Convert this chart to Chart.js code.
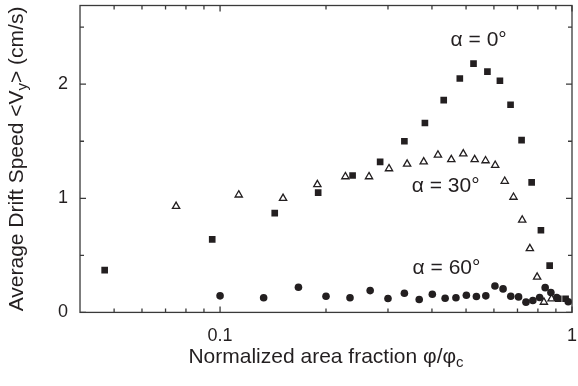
<!DOCTYPE html>
<html>
<head>
<meta charset="utf-8">
<script src="https://cdn.jsdelivr.net/npm/chart.js@4/dist/chart.umd.min.js"></script>
<style>
    html, body { margin: 0; padding: 0; background: #ffffff; }
    #wrap { width: 578px; height: 386px; }
</style>
</head>
<body>
<div id="wrap"><canvas id="drift-chart"></canvas></div>
<script>
// alpha = 0 deg (filled squares)
const ALPHA0_X = [0.047, 0.095, 0.143, 0.190, 0.238, 0.285, 0.334, 0.382, 0.432, 0.480, 0.525, 0.575, 0.624, 0.669, 0.719, 0.768, 0.816, 0.864, 0.914, 0.959];
const ALPHA0_Y = [0.37, 0.64, 0.87, 1.05, 1.20, 1.32, 1.50, 1.66, 1.86, 2.05, 2.18, 2.11, 2.03, 1.82, 1.51, 1.14, 0.72, 0.41, 0.12, 0.12];

// alpha = 30 deg (open triangles)
const ALPHA30_X = [0.075, 0.113, 0.151, 0.189, 0.227, 0.265, 0.302, 0.340, 0.379, 0.416, 0.454, 0.491, 0.529, 0.568, 0.605, 0.644, 0.682, 0.722, 0.759, 0.796, 0.832, 0.875];
const ALPHA30_Y = [0.93, 1.03, 1.00, 1.12, 1.19, 1.19, 1.26, 1.30, 1.32, 1.38, 1.34, 1.39, 1.34, 1.33, 1.29, 1.15, 1.01, 0.81, 0.56, 0.31, 0.09, 0.12];

// alpha = 60 deg (filled circles)
const ALPHA60_X = [0.100, 0.133, 0.167, 0.200, 0.234, 0.267, 0.300, 0.334, 0.368, 0.401, 0.436, 0.468, 0.501, 0.535, 0.569, 0.604, 0.637, 0.670, 0.705, 0.740, 0.774, 0.809, 0.839, 0.871, 0.905, 0.976];
const ALPHA60_Y = [0.145, 0.128, 0.22, 0.142, 0.128, 0.191, 0.122, 0.168, 0.113, 0.159, 0.124, 0.128, 0.15, 0.139, 0.145, 0.232, 0.206, 0.142, 0.136, 0.09, 0.104, 0.13, 0.217, 0.174, 0.13, 0.093];

// axes
const X_LABEL_TICKS = [0.1, 1];
const X_MINOR_TICKS = [0.05, 0.06, 0.07, 0.08, 0.09, 0.2, 0.3, 0.4, 0.5, 0.6, 0.7, 0.8, 0.9];
const Y_LABEL_TICKS = [0, 1, 2];
const Y_MINOR_TICKS = [0.5, 1.5, 2.5];

// curve labels
const LABEL_TEXT = ['α = 0°', 'α = 30°', 'α = 60°'];
const LABEL_X = [0.543, 0.4375, 0.44];
const LABEL_Y = [2.39, 1.11, 0.39];

const INK = '#231f20';
const FONT = "'Liberation Sans', Arial, Helvetica, sans-serif";

function toPoints(xs, ys) {
    return xs.map((x, i) => ({ x: x, y: ys[i] }));
}

// draws a line of text where some pieces are subscripts, centred on (cx, cy)
function drawSubText(ctx, parts, cx, cy, size) {
    const subSize = Math.round(size * 0.7);
    let total = 0;
    parts.forEach(p => {
        ctx.font = (p[1] ? subSize : size) + 'px ' + FONT;
        total += ctx.measureText(p[0]).width;
    });
    let x = cx - total / 2;
    ctx.textAlign = 'left';
    ctx.textBaseline = 'middle';
    parts.forEach(p => {
        ctx.font = (p[1] ? subSize : size) + 'px ' + FONT;
        ctx.fillText(p[0], x, p[1] ? cy + size * 0.3 : cy);
        x += ctx.measureText(p[0]).width;
    });
}

const framePlugin = {
    id: 'frame',
    afterDatasetsDraw(chart) {
        const ctx = chart.ctx;
        const area = chart.chartArea;
        const xs = chart.scales.x;
        const ys = chart.scales.y;
        ctx.save();
        ctx.strokeStyle = '#3a3a3a';
        ctx.lineWidth = 1.3;
        ctx.strokeRect(area.left, area.top, area.right - area.left, area.bottom - area.top);

        ctx.beginPath();
        const xTick = (v, len) => {
            const px = xs.getPixelForValue(v);
            ctx.moveTo(px, area.bottom); ctx.lineTo(px, area.bottom - len);
            ctx.moveTo(px, area.top); ctx.lineTo(px, area.top + len);
        };
        const yTick = (v, len) => {
            const py = ys.getPixelForValue(v);
            ctx.moveTo(area.left, py); ctx.lineTo(area.left + len, py);
            ctx.moveTo(area.right, py); ctx.lineTo(area.right - len, py);
        };
        X_LABEL_TICKS.forEach(v => xTick(v, 6));
        X_MINOR_TICKS.forEach(v => xTick(v, 4));
        Y_LABEL_TICKS.forEach(v => yTick(v, 6));
        Y_MINOR_TICKS.forEach(v => yTick(v, 4));
        ctx.stroke();

        ctx.fillStyle = INK;
        ctx.font = '21px ' + FONT;
        ctx.textAlign = 'center';
        ctx.textBaseline = 'middle';
        LABEL_TEXT.forEach((t, i) => {
            ctx.fillText(t, xs.getPixelForValue(LABEL_X[i]), ys.getPixelForValue(LABEL_Y[i]));
        });

        // axis titles
        drawSubText(ctx, [['Normalized area fraction φ/φ', false], ['c', true]],
            (area.left + area.right) / 2, 357, 21);
        ctx.translate(17, (area.top + area.bottom) / 2);
        ctx.rotate(-Math.PI / 2);
        drawSubText(ctx, [['Average Drift Speed <V', false], ['y', true], ['> (cm/s)', false]], 0, 0, 21);
        ctx.restore();
    }
};

new Chart(document.getElementById('drift-chart'), {
    type: 'scatter',
    data: {
        datasets: [
            {
                label: 'α = 60°',
                data: toPoints(ALPHA60_X, ALPHA60_Y),
                pointStyle: 'circle',
                pointRadius: 3.8,
                backgroundColor: INK,
                borderColor: INK,
                borderWidth: 0
            },
            {
                label: 'α = 30°',
                data: toPoints(ALPHA30_X, ALPHA30_Y),
                pointStyle: 'triangle',
                pointRadius: 4.2,
                backgroundColor: '#ffffff',
                borderColor: INK,
                borderWidth: 1.3
            },
            {
                label: 'α = 0°',
                data: toPoints(ALPHA0_X, ALPHA0_Y),
                pointStyle: 'rect',
                pointRadius: 4.7,
                backgroundColor: INK,
                borderColor: INK,
                borderWidth: 0
            }
        ]
    },
    options: {
        responsive: true,
        maintainAspectRatio: false,
        animation: false,
        events: [],
        layout: {
            padding: { left: 46, right: 6, top: 0, bottom: 26 }
        },
        plugins: {
            legend: { display: false },
            tooltip: { enabled: false }
        },
        scales: {
            x: {
                type: 'logarithmic',
                min: 0.04,
                max: 1,
                afterBuildTicks: scale => {
                    scale.ticks = X_LABEL_TICKS.map(v => ({ value: v }));
                },
                afterFit: scale => {
                    scale.paddingLeft = 0;
                    scale.paddingRight = 0;
                },
                grid: { display: false, drawTicks: false },
                border: { display: false },
                ticks: {
                    autoSkip: false,
                    maxRotation: 0,
                    padding: 13,
                    color: INK,
                    font: { size: 18, family: FONT },
                    callback: v => String(v)
                }
            },
            y: {
                type: 'linear',
                min: 0,
                max: 2.69,
                afterBuildTicks: scale => {
                    scale.ticks = Y_LABEL_TICKS.map(v => ({ value: v }));
                },
                afterFit: scale => {
                    scale.paddingTop = 0;
                    scale.paddingBottom = 0;
                },
                grid: { display: false, drawTicks: false },
                border: { display: false },
                ticks: {
                    padding: 12,
                    color: INK,
                    font: { size: 18, family: FONT },
                    callback: v => String(v)
                }
            }
        }
    },
    plugins: [framePlugin]
});
</script>
</body>
</html>
